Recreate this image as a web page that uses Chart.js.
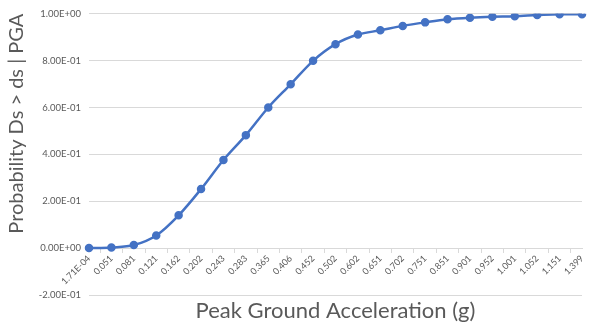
<!DOCTYPE html>
<html>
<head>
<meta charset="utf-8">
<script src="https://cdn.jsdelivr.net/npm/chart.js@4/dist/chart.umd.min.js"></script>
<style>
  html, body { margin: 0; padding: 0; background: #fff; }
  #wrap { width: 614px; height: 327px; }
</style>
</head>
<body>
<div id="wrap"><canvas id="curva"></canvas></div>
<script>
// categorias del eje x (PGA en g)
const pgaLabels = ['1.71E-04', '0.051', '0.081', '0.121', '0.162', '0.202', '0.243', '0.283',
  '0.365', '0.406', '0.452', '0.502', '0.602', '0.651', '0.702', '0.751', '0.851', '0.901',
  '0.952', '1.001', '1.052', '1.151', '1.399'];

// probabilidad de excedencia
const probValues = [0.000, 0.003, 0.013, 0.054, 0.140, 0.252, 0.376, 0.482, 0.600, 0.699,
  0.799, 0.870, 0.911, 0.929, 0.948, 0.963, 0.976, 0.983, 0.987, 0.989, 0.994, 0.998, 0.998];

const yMin = -0.2, yMax = 1.0, yStep = 0.2;

const gris = '#595959';
const lineaGris = '#d9d9d9';
const azul = '#4472C4';

// formato tipo Excel: 1.00E+00
function sci(v) {
  if (Math.abs(v) < 1e-9) return '0.00E+00';
  let e = Math.floor(Math.log10(Math.abs(v)) + 1e-9);
  let m = v / Math.pow(10, e);
  return m.toFixed(2) + 'E' + (e < 0 ? '-' : '+') + String(Math.abs(e)).padStart(2, '0');
}

const ctx = document.getElementById('curva');

new Chart(ctx, {
  type: 'line',
  data: {
    labels: pgaLabels,
    datasets: [{
      data: probValues,
      borderColor: azul,
      backgroundColor: azul,
      borderWidth: 2.5,
      pointRadius: 3,
      pointHoverRadius: 3,
      cubicInterpolationMode: 'monotone',
      xAxisID: 'x'
    }]
  },
  options: {
    responsive: true,
    maintainAspectRatio: false,
    animation: false,
    layout: { padding: { top: 8, right: 32, left: 0, bottom: 0 } },
    plugins: {
      legend: { display: false },
      tooltip: { enabled: false }
    },
    scales: {
      x: {
        type: 'category',
        position: { y: 0 },
        offset: false,
        grid: { display: true, drawOnChartArea: false, offset: true, tickLength: 4, color: lineaGris },
        border: { display: true, color: lineaGris },
        ticks: {
          color: gris,
          font: { family: 'Lato', size: 9 },
          minRotation: 45, maxRotation: 45,
          autoSkip: false,
          padding: 1
        }
      },
      x2: {
        type: 'category',
        position: 'bottom',
        grid: { display: false },
        border: { display: false },
        ticks: { display: false },
        title: {
          display: true,
          text: 'Peak Ground Acceleration (g)',
          color: gris,
          font: { family: 'Lato', size: 22 },
          padding: { top: 4, bottom: 3 }
        },
        afterFit: s => { s.height = 32; }
      },
      y: {
        min: yMin, max: yMax,
        ticks: {
          stepSize: yStep,
          color: gris,
          font: { family: 'Lato', size: 9.5 },
          padding: 8,
          callback: v => sci(v)
        },
        grid: { color: lineaGris, drawTicks: false },
        border: { display: false },
        title: {
          display: true,
          align: 'end',
          text: 'Probability Ds > ds | PGA',
          color: gris,
          font: { family: 'Lato', size: 20 },
          padding: { top: 5, bottom: 0 }
        },
        afterFit: s => { s.width = 89; }
      }
    }
  }
});
</script>
</body>
</html>
